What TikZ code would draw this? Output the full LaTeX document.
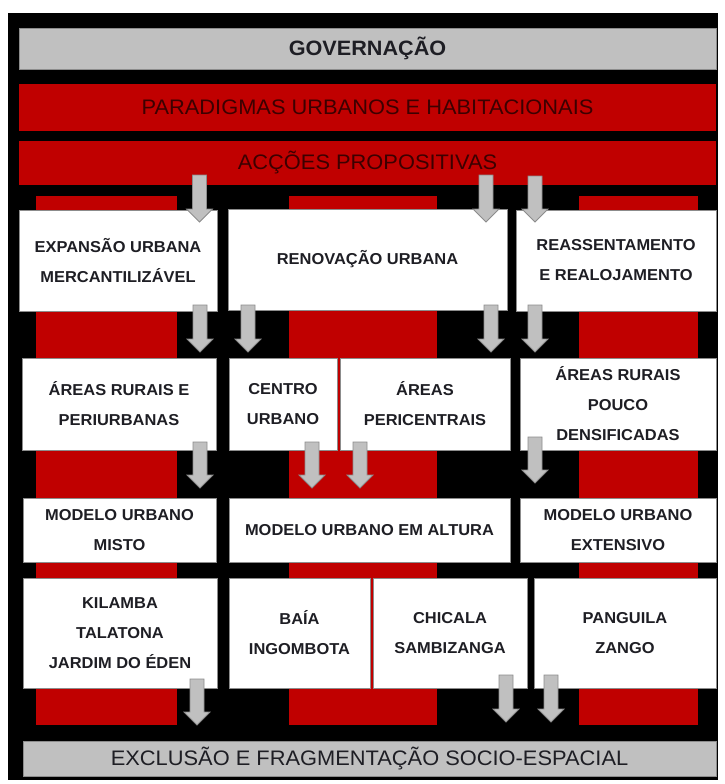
\documentclass[tikz,border=0pt]{standalone}
\usepackage{fontspec}
\setmainfont[FakeStretch=1.04]{Liberation Sans}
\usetikzlibrary{calc}
\definecolor{bgred}{HTML}{C00000}
\definecolor{redtxt}{HTML}{3C0000}
\definecolor{lgray}{HTML}{C0C0C0}
\definecolor{mgray}{HTML}{8C8C8C}
\definecolor{boxtxt}{HTML}{1E1E24}
\newcommand\blockarr[2]{%
  \path[blockarrow] let \p1=(#1), \p2=(#2) in
    (\x1-7pt,\y1) -- (\x1+7pt,\y1) -- (\x1+7pt,\y2+13pt) -- (\x1+13pt,\y2+13pt)
    -- (\x2,\y2) -- (\x1-13pt,\y2+13pt) -- (\x1-7pt,\y2+13pt) -- cycle;}
\begin{document}
\begin{tikzpicture}[x=1pt,y=-1pt,
  bar/.style={draw=none,inner sep=0pt},
  graybar/.style={bar,fill=lgray,draw=mgray,line width=0.6pt},
  redbar/.style={bar,fill=bgred},
  bigtxt/.style={font=\fontsize{21pt}{24pt}\selectfont},
  wbox/.style={fill=white,draw=mgray,line width=0.7pt,inner sep=0pt,align=center,
    text=boxtxt,font=\bfseries\fontsize{15.8pt}{30pt}\selectfont},
  blockarrow/.style={fill=lgray,draw=mgray,line width=0.8pt,line join=miter}]
\useasboundingbox (0,0) rectangle (725,784);
% background
\fill[black] (8,13) rectangle (718,780);
% top bars
\node[graybar,minimum width=697pt,minimum height=41pt,text=boxtxt,
  font=\bfseries\fontsize{20.8pt}{24pt}\selectfont] (gov) at (367.5,48.5) {GOVERNAÇÃO};
\node[redbar,bigtxt,text=redtxt,minimum width=697pt,minimum height=47pt] (par) at (367.5,107.5) {PARADIGMAS URBANOS E HABITACIONAIS};
\node[redbar,bigtxt,text=redtxt,minimum width=697pt,minimum height=44pt] (acc) at (367.5,163) {ACÇÕES PROPOSITIVAS};
% red columns
\fill[bgred] (36,196) rectangle (177,725);
\fill[bgred] (289,196) rectangle (437,725);
\fill[bgred] (579,196) rectangle (698,725);
% row 1
\node[wbox,minimum width=198pt,minimum height=101pt] (b1) at (118,260.5) {EXPANSÃO URBANA\\MERCANTILIZÁVEL};
\node[wbox,minimum width=279pt,minimum height=101pt] (b2) at (367.5,259.5) {RENOVAÇÃO URBANA};
\node[wbox,minimum width=200pt,minimum height=101pt] (b3) at (616,260.5) {REASSENTAMENTO\\E REALOJAMENTO};
% row 2
\node[wbox,minimum width=194pt,minimum height=92pt] (c1) at (119,404) {ÁREAS RURAIS E\\PERIURBANAS};
\node[wbox,minimum width=108pt,minimum height=92pt] (c2) at (283,404) {CENTRO\\URBANO};
\node[wbox,minimum width=170pt,minimum height=92pt] (c3) at (425,404) {ÁREAS\\PERICENTRAIS};
\node[wbox,minimum width=196pt,minimum height=92pt] (c4) at (618,404) {ÁREAS RURAIS\\POUCO\\DENSIFICADAS};
% row 3
\node[wbox,minimum width=193pt,minimum height=64pt] (d1) at (119.5,530) {MODELO URBANO\\MISTO};
\node[wbox,minimum width=281pt,minimum height=64pt] (d2) at (369.5,530) {MODELO URBANO EM ALTURA};
\node[wbox,minimum width=196pt,minimum height=64pt] (d3) at (618,530) {MODELO URBANO\\EXTENSIVO};
% row 4
\node[wbox,minimum width=194pt,minimum height=110pt] (e1) at (120,633) {KILAMBA\\TALATONA\\JARDIM DO ÉDEN};
\node[wbox,minimum width=141pt,minimum height=110pt] (e2) at (299.5,633) {BAÍA\\INGOMBOTA};
\node[wbox,minimum width=154pt,minimum height=110pt] (e3) at (450,633) {CHICALA\\SAMBIZANGA};
\node[wbox,minimum width=182pt,minimum height=110pt] (e4) at (625,633) {PANGUILA\\ZANGO};
% bottom bar
\node[graybar,bigtxt,text=boxtxt,minimum width=693pt,minimum height=35pt] (exc) at (369.5,758.5) {EXCLUSÃO E FRAGMENTAÇÃO SOCIO-ESPACIAL};
% arrow end points
\coordinate (s1) at (199.5,175); \coordinate (t1) at (199.5,222);
\coordinate (s2) at (486,175);   \coordinate (t2) at (486,222);
\coordinate (s3) at (535,176);   \coordinate (t3) at (535,222);
\coordinate (s4) at (200,305);   \coordinate (t4) at (200,352);
\coordinate (s5) at (248,305);   \coordinate (t5) at (248,352);
\coordinate (s6) at (491,305);   \coordinate (t6) at (491,352);
\coordinate (s7) at (535,305);   \coordinate (t7) at (535,352);
\coordinate (s8) at (200,442);   \coordinate (t8) at (200,488);
\coordinate (s9) at (312,442);   \coordinate (t9) at (312,488);
\coordinate (s10) at (360,442);  \coordinate (t10) at (360,488);
\coordinate (s11) at (535,437);  \coordinate (t11) at (535,483);
\coordinate (s12) at (197,679);  \coordinate (t12) at (197,725);
\coordinate (s13) at (506,675);  \coordinate (t13) at (506,722);
\coordinate (s14) at (551,675);  \coordinate (t14) at (551,722);
\foreach \i in {1,...,14}{\blockarr{s\i}{t\i}}
\end{tikzpicture}
\end{document}
